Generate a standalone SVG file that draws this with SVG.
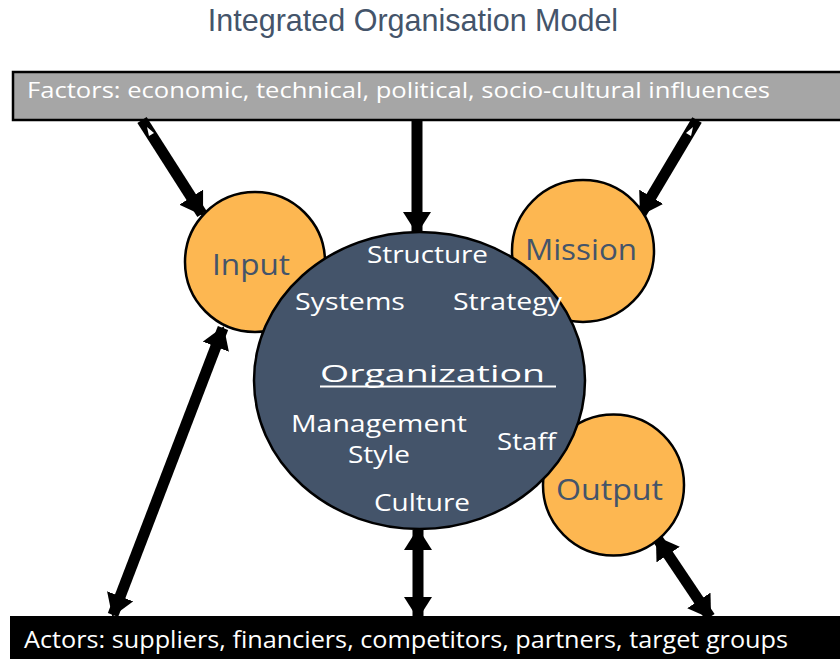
<svg xmlns="http://www.w3.org/2000/svg" width="840" height="659" viewBox="0 0 840 659">
  <defs>
    <style>
      .title { font-family: "Liberation Sans", Arial, sans-serif; font-size: 30.5px; fill: #44546A; }
      .bar-text { font-family: "Open Sans", "Liberation Sans", sans-serif; fill: #FFFFFF; }
      .ext { fill: #FDB751; stroke: #000000; stroke-width: 2.5; }
      .ext-label { font-family: "Open Sans", "Liberation Sans", sans-serif; font-size: 29px; fill: #44546A; }
      .org { fill: #44546A; stroke: #000000; stroke-width: 2.5; }
      .org-label { font-family: "Open Sans", "Liberation Sans", sans-serif; font-size: 24px; fill: #FFFFFF; }
      .link { stroke: #000000; stroke-width: 11; fill: none; }
      .tail { fill: #FFFFFF; }
    </style>
    <marker id="head" viewBox="0 0 22 28" refX="20" refY="14" markerWidth="22" markerHeight="28" markerUnits="userSpaceOnUse" orient="auto-start-reverse">
      <path d="M0,0 L22,14 L0,28 Z" fill="#000000"/>
    </marker>
  </defs>

  <rect width="840" height="659" fill="#FFFFFF"/>

  <text class="title" x="413" y="31" text-anchor="middle">Integrated Organisation Model</text>

  <!-- environment factors bar -->
  <g id="factors">
    <rect x="13" y="72" width="840" height="48" fill="#A6A6A6" stroke="#000000" stroke-width="2.5"/>
    <text class="bar-text" x="27" y="98" font-size="22" textLength="743" lengthAdjust="spacingAndGlyphs">Factors: economic, technical, political, socio-cultural influences</text>
  </g>

  <!-- actors bar -->
  <g id="actors">
    <rect x="10" y="616" width="840" height="50" fill="#000000"/>
    <text class="bar-text" x="24" y="648" font-size="23" textLength="764" lengthAdjust="spacingAndGlyphs">Actors: suppliers, financiers, competitors, partners, target groups</text>
  </g>

  <!-- connectors -->
  <g id="connectors">
    <line class="link" x1="142" y1="120" x2="202" y2="214" marker-end="url(#head)"/>
    <polygon class="tail" points="147,127 154,133 149,136"/>
    <line class="link" x1="417" y1="120" x2="417" y2="232" marker-end="url(#head)"/>
    <line class="link" x1="697" y1="120" x2="641" y2="214" marker-end="url(#head)"/>
    <polygon class="tail" points="693,127 691,136 686,133"/>
    <line class="link" x1="223" y1="328" x2="113" y2="615" marker-start="url(#head)" marker-end="url(#head)"/>
    <line class="link" x1="418" y1="530" x2="418" y2="617" marker-start="url(#head)" marker-end="url(#head)"/>
    <line class="link" x1="657" y1="538" x2="710" y2="617" marker-start="url(#head)" marker-end="url(#head)"/>
  </g>

  <g id="input">
    <circle class="ext" cx="255" cy="262" r="70"/>
    <text class="ext-label" x="212" y="275" textLength="78" lengthAdjust="spacingAndGlyphs">Input</text>
  </g>

  <g id="mission">
    <circle class="ext" cx="583" cy="251" r="71"/>
    <text class="ext-label" x="525" y="260" textLength="112" lengthAdjust="spacingAndGlyphs">Mission</text>
  </g>

  <g id="output">
    <circle class="ext" cx="613.5" cy="485" r="70.5"/>
    <text class="ext-label" x="556" y="500" textLength="107" lengthAdjust="spacingAndGlyphs">Output</text>
  </g>

  <g id="organization">
    <ellipse class="org" cx="419.5" cy="380.5" rx="165.5" ry="148.5"/>
    <text class="org-label" x="367" y="263" textLength="121" lengthAdjust="spacingAndGlyphs">Structure</text>
    <text class="org-label" x="295" y="310" textLength="110" lengthAdjust="spacingAndGlyphs">Systems</text>
    <text class="org-label" x="453" y="310" textLength="109" lengthAdjust="spacingAndGlyphs">Strategy</text>
    <text class="org-label" x="320" y="382" font-size="35" textLength="225" lengthAdjust="spacingAndGlyphs">Organization</text>
    <line x1="320" y1="386.5" x2="556" y2="386.5" stroke="#FFFFFF" stroke-width="1.8"/>
    <text class="org-label" x="291" y="432" textLength="176" lengthAdjust="spacingAndGlyphs">Management</text>
    <text class="org-label" x="348" y="463" textLength="62" lengthAdjust="spacingAndGlyphs">Style</text>
    <text class="org-label" x="497" y="450" textLength="59" lengthAdjust="spacingAndGlyphs">Staff</text>
    <text class="org-label" x="374" y="511" textLength="96" lengthAdjust="spacingAndGlyphs">Culture</text>
  </g>
</svg>
